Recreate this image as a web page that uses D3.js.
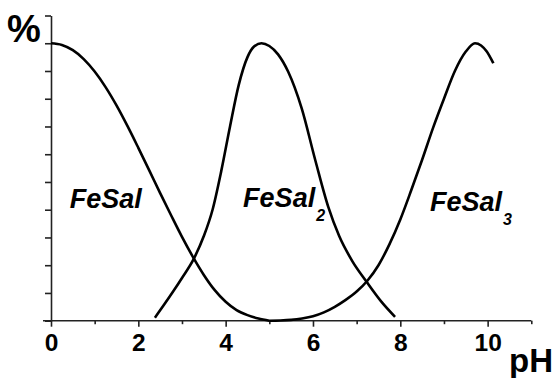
<!DOCTYPE html>
<html>
<head>
<meta charset="utf-8">
<script src="https://cdn.jsdelivr.net/npm/d3@7"></script>
<style>
  html, body { margin: 0; padding: 0; background: #fff; }
  svg { display: block; }
  text { font-family: "Liberation Sans", Arial, sans-serif; font-weight: bold; fill: #000; }
</style>
</head>
<body>
<svg id="chart" width="560" height="378"></svg>
<script>
// Species distribution of Fe–salicylate complexes vs pH
const feSalPH   = [0, 0.25, 0.5, 0.75, 1.0, 1.25, 1.5, 1.75, 2.0, 2.25, 2.5, 2.75, 3.0, 3.25, 3.5, 3.75, 4.0, 4.25, 4.5, 4.75, 5.0];
const feSalPct  = [100, 99.4, 97.5, 94.3, 89.8, 84.2, 77.6, 70.2, 62.3, 54.2, 46, 38, 30.2, 23, 16.5, 11, 6.8, 3.8, 2.0, 0.8, 0];

const feSal2PH  = [2.38, 2.6, 2.8, 3.0, 3.26, 3.5, 3.7, 3.9, 4.1, 4.3, 4.5, 4.65, 4.82, 5.0, 5.2, 5.43, 5.74, 6.05, 6.35, 6.6, 6.9, 7.23, 7.57, 7.88];
const feSal2Pct = [1.1, 6.0, 10.6, 15.4, 22, 30.5, 40, 54, 70, 85, 95, 98.8, 100, 99, 96, 89.8, 76.6, 58, 41, 30.5, 21.5, 14, 6.8, 1.4];

const feSal3PH  = [5.0, 5.25, 5.5, 5.75, 6.0, 6.25, 6.5, 6.75, 7.0, 7.25, 7.5, 7.75, 8.0, 8.25, 8.5, 8.75, 9.0, 9.25, 9.5, 9.71, 9.85, 9.98, 10.13];
const feSal3Pct = [0, 0.08, 0.3, 0.8, 1.6, 3.0, 5.0, 7.5, 10.5, 14.5, 20.0, 27.5, 36.5, 47, 58, 69.5, 80, 90, 97, 100, 99.2, 97, 92.8];

const xTicks = [0, 1, 2, 3, 4, 5, 6, 7, 8, 9, 10, 11];
const xTickLabels = ["0", "", "2", "", "4", "", "6", "", "8", "", "10", ""];
const yTicks = [0, 10, 20, 30, 40, 50, 60, 70, 80, 90, 100, 110];

const speciesNames = ["FeSal", "FeSal", "FeSal"];
const speciesSubs  = ["", "2", "3"];
const speciesLabelPH  = [0.43, 4.4, 8.68];
const speciesLabelPct = [40.5, 41, 39.5];

const svg = d3.select("#chart");
const x = d3.scaleLinear().domain([0, 11]).range([51, 531.3]);
const y = d3.scaleLinear().domain([0, 110]).range([320.7, 15.5]);

// x axis: long ticks with labels at even pH, short ticks between
const xAxis = d3.axisBottom(x)
  .tickValues(xTicks)
  .tickSize(6)
  .tickSizeOuter(0)
  .tickPadding(7)
  .tickFormat((d, i) => xTickLabels[i]);

const gx = svg.append("g")
  .attr("transform", `translate(0,${y(0)})`)
  .call(xAxis);
gx.select(".domain").remove();
gx.append("line")
  .attr("x1", 43).attr("x2", x(11))
  .attr("stroke", "#222").attr("stroke-width", 1.6);
gx.selectAll(".tick line")
  .attr("stroke", "#222").attr("stroke-width", 1.6)
  .attr("y2", d => d % 2 === 0 ? 6 : 3.5);
gx.selectAll(".tick text")
  .style("font-size", "24.5px")
  .style("font-weight", "bold")
  .attr("fill", "#000")
  .attr("dy", "0.71em");

// y axis: unlabeled ticks every 10%
const yAxis = d3.axisLeft(y)
  .tickValues(yTicks)
  .tickSize(6)
  .tickSizeOuter(0)
  .tickFormat("");
const gy = svg.append("g")
  .attr("transform", `translate(${x(0)},0)`)
  .call(yAxis);
gy.select(".domain")
  .attr("stroke", "#222").attr("stroke-width", 1.6);
gy.selectAll(".tick line")
  .attr("stroke", "#222").attr("stroke-width", 1.6);

// axis titles
svg.append("text")
  .attr("x", 7).attr("y", 42)
  .style("font-size", "38px")
  .text("%");
svg.append("text")
  .attr("x", 509).attr("y", 372)
  .style("font-size", "33px")
  .text("pH");

// distribution curves
const line = d3.line()
  .x(d => x(d[0]))
  .y(d => y(d[1]))
  .curve(d3.curveMonotoneX);

const series = [
  d3.zip(feSalPH, feSalPct),
  d3.zip(feSal2PH, feSal2Pct),
  d3.zip(feSal3PH, feSal3Pct)
];

svg.append("g")
  .selectAll("path")
  .data(series)
  .join("path")
  .attr("d", line)
  .attr("fill", "none")
  .attr("stroke", "#000")
  .attr("stroke-width", 2.6)
  .attr("stroke-linejoin", "round");

// species labels
const labels = svg.append("g")
  .selectAll("text")
  .data(speciesNames.map((n, i) => ({ n, s: speciesSubs[i], px: speciesLabelPH[i], py: speciesLabelPct[i] })))
  .join("text")
  .attr("x", d => x(d.px))
  .attr("y", d => y(d.py))
  .style("font-size", "27px")
  .style("font-style", "italic");
labels.append("tspan").text(d => d.n);
labels.filter(d => d.s).append("tspan")
  .attr("dy", 14)
  .attr("dx", 1)
  .style("font-size", "16px")
  .text(d => d.s);
</script>
</body>
</html>
